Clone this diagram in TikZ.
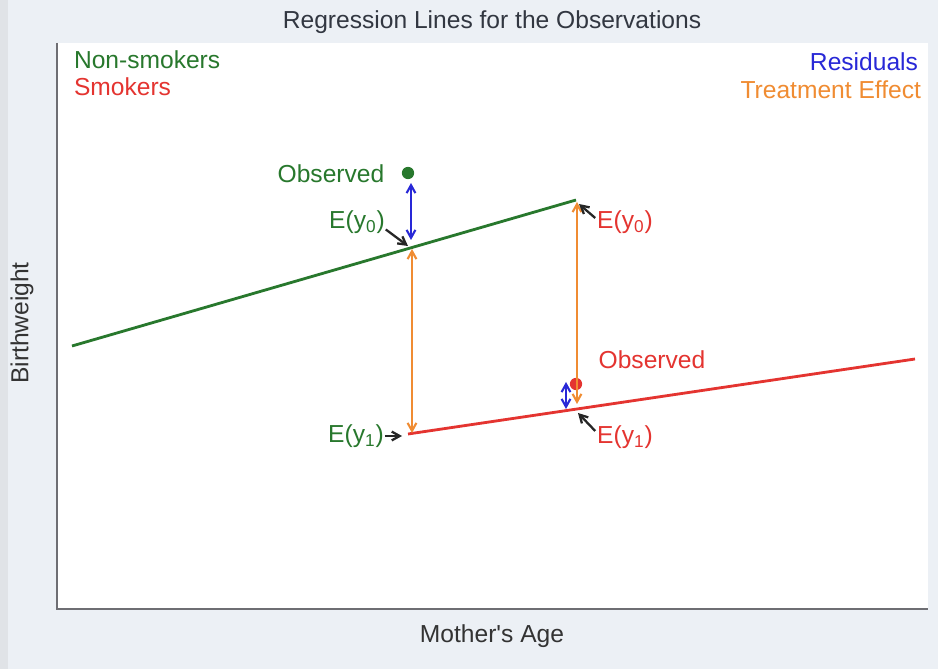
\documentclass[tikz,border=0pt]{standalone}
\usepackage{fontspec}
\setmainfont{Liberation Sans}[Ligatures=TeXOff]
\usetikzlibrary{arrows.meta}
\definecolor{nsgreen}{RGB}{40,120,45}
\definecolor{smred}{RGB}{228,52,48}
\definecolor{resblue}{RGB}{40,40,215}
\definecolor{teorange}{RGB}{240,140,50}
\definecolor{panelbg}{RGB}{236,240,245}
\definecolor{stripbg}{RGB}{224,227,231}
\definecolor{axisgrey}{RGB}{110,110,115}
\definecolor{titlegrey}{RGB}{50,55,65}
\begin{document}
\begin{tikzpicture}[x=0.02cm,y=-0.02cm,inner sep=0pt,outer sep=0pt,
>={Straight Barb[length=4.5pt,width=5pt]},
lbl/.style={font=\fontsize{14}{16}\selectfont},
regline/.style={line width=1.6pt},
effect/.style={<->,line width=1.2pt,draw=teorange},
resid/.style={<->,line width=1.2pt,draw=resblue},
pointer/.style={->,line width=1.3pt,draw=black!85},
obsdot/.style={circle,minimum size=7pt}]
% background and panel
\fill[panelbg] (0,0) rectangle (938,669);
\fill[stripbg] (0,0) rectangle (8,669);
\fill[white] (57,43) rectangle (928,609);
\draw[axisgrey,line width=1.2pt] (57,43) -- (57,609) -- (928,609);
% titles
\draw (492,22) node[lbl,text=titlegrey] (title) {Regression Lines for the Observations};
\draw (492,636) node[lbl,text=black!80] (xlab) {Mother's Age};
\draw (22,323) node[lbl,text=black!80,rotate=90] (ylab) {Birthweight};
% legend
\draw (74,60) node[lbl,anchor=west,text=nsgreen] (legns) {Non-smokers};
\draw (74,87) node[lbl,anchor=west,text=smred] (legsm) {Smokers};
\draw (918,62) node[lbl,anchor=east,text=resblue] (legres) {Residuals};
\draw (921,90) node[lbl,anchor=east,text=teorange] (legte) {Treatment Effect};
% regression lines
\coordinate (g0) at (72,346);
\coordinate (g1) at (576,200);
\coordinate (r0) at (408,434);
\coordinate (r1) at (915,359);
\draw[regline,nsgreen] (g0) -- (g1);
\draw[regline,smred] (r0) -- (r1);
% observations
\draw (408,173) node[obsdot,fill=nsgreen] (obsns) {};
\draw (576,384) node[obsdot,fill=smred] (obssm) {};
\draw (331,174) node[lbl,text=nsgreen] (obsnslbl) {Observed};
\draw (652,360) node[lbl,text=smred] (obssmlbl) {Observed};
% residuals
\coordinate (resnstop) at (411,183);
\coordinate (resnsbot) at (411,240);
\coordinate (ressmtop) at (566,382);
\coordinate (ressmbot) at (566,409);
\draw[resid] (resnstop) -- (resnsbot);
\draw[resid] (ressmtop) -- (ressmbot);
% treatment effects
\coordinate (tenstop) at (412,249);
\coordinate (tensbot) at (412,433);
\coordinate (tesmtop) at (577,202);
\coordinate (tesmbot) at (577,404);
\draw[effect] (tenstop) -- (tensbot);
\draw[effect] (tesmtop) -- (tesmbot);
% expected value labels
\draw (357,222) node[lbl,text=nsgreen] (ey0ns) {E(y\textsubscript{0})};
\draw (356,436) node[lbl,text=nsgreen] (ey1ns) {E(y\textsubscript{1})};
\draw (625,222) node[lbl,text=smred] (ey0sm) {E(y\textsubscript{0})};
\draw (625,437) node[lbl,text=smred] (ey1sm) {E(y\textsubscript{1})};
\coordinate (ey0nsend) at (408,246);
\coordinate (ey1nsend) at (402,436);
\coordinate (ey0smend) at (579,204);
\coordinate (ey1smend) at (578,413);
\draw[pointer] (ey0ns.south east) ++(1,-4) -- (ey0nsend);
\draw[pointer] (ey1ns.east) ++(1,0) -- (ey1nsend);
\draw[pointer] (ey0sm.west) ++(-2,-4) -- (ey0smend);
\draw[pointer] (ey1sm.west) ++(-2,-6) -- (ey1smend);
\end{tikzpicture}
\end{document}
